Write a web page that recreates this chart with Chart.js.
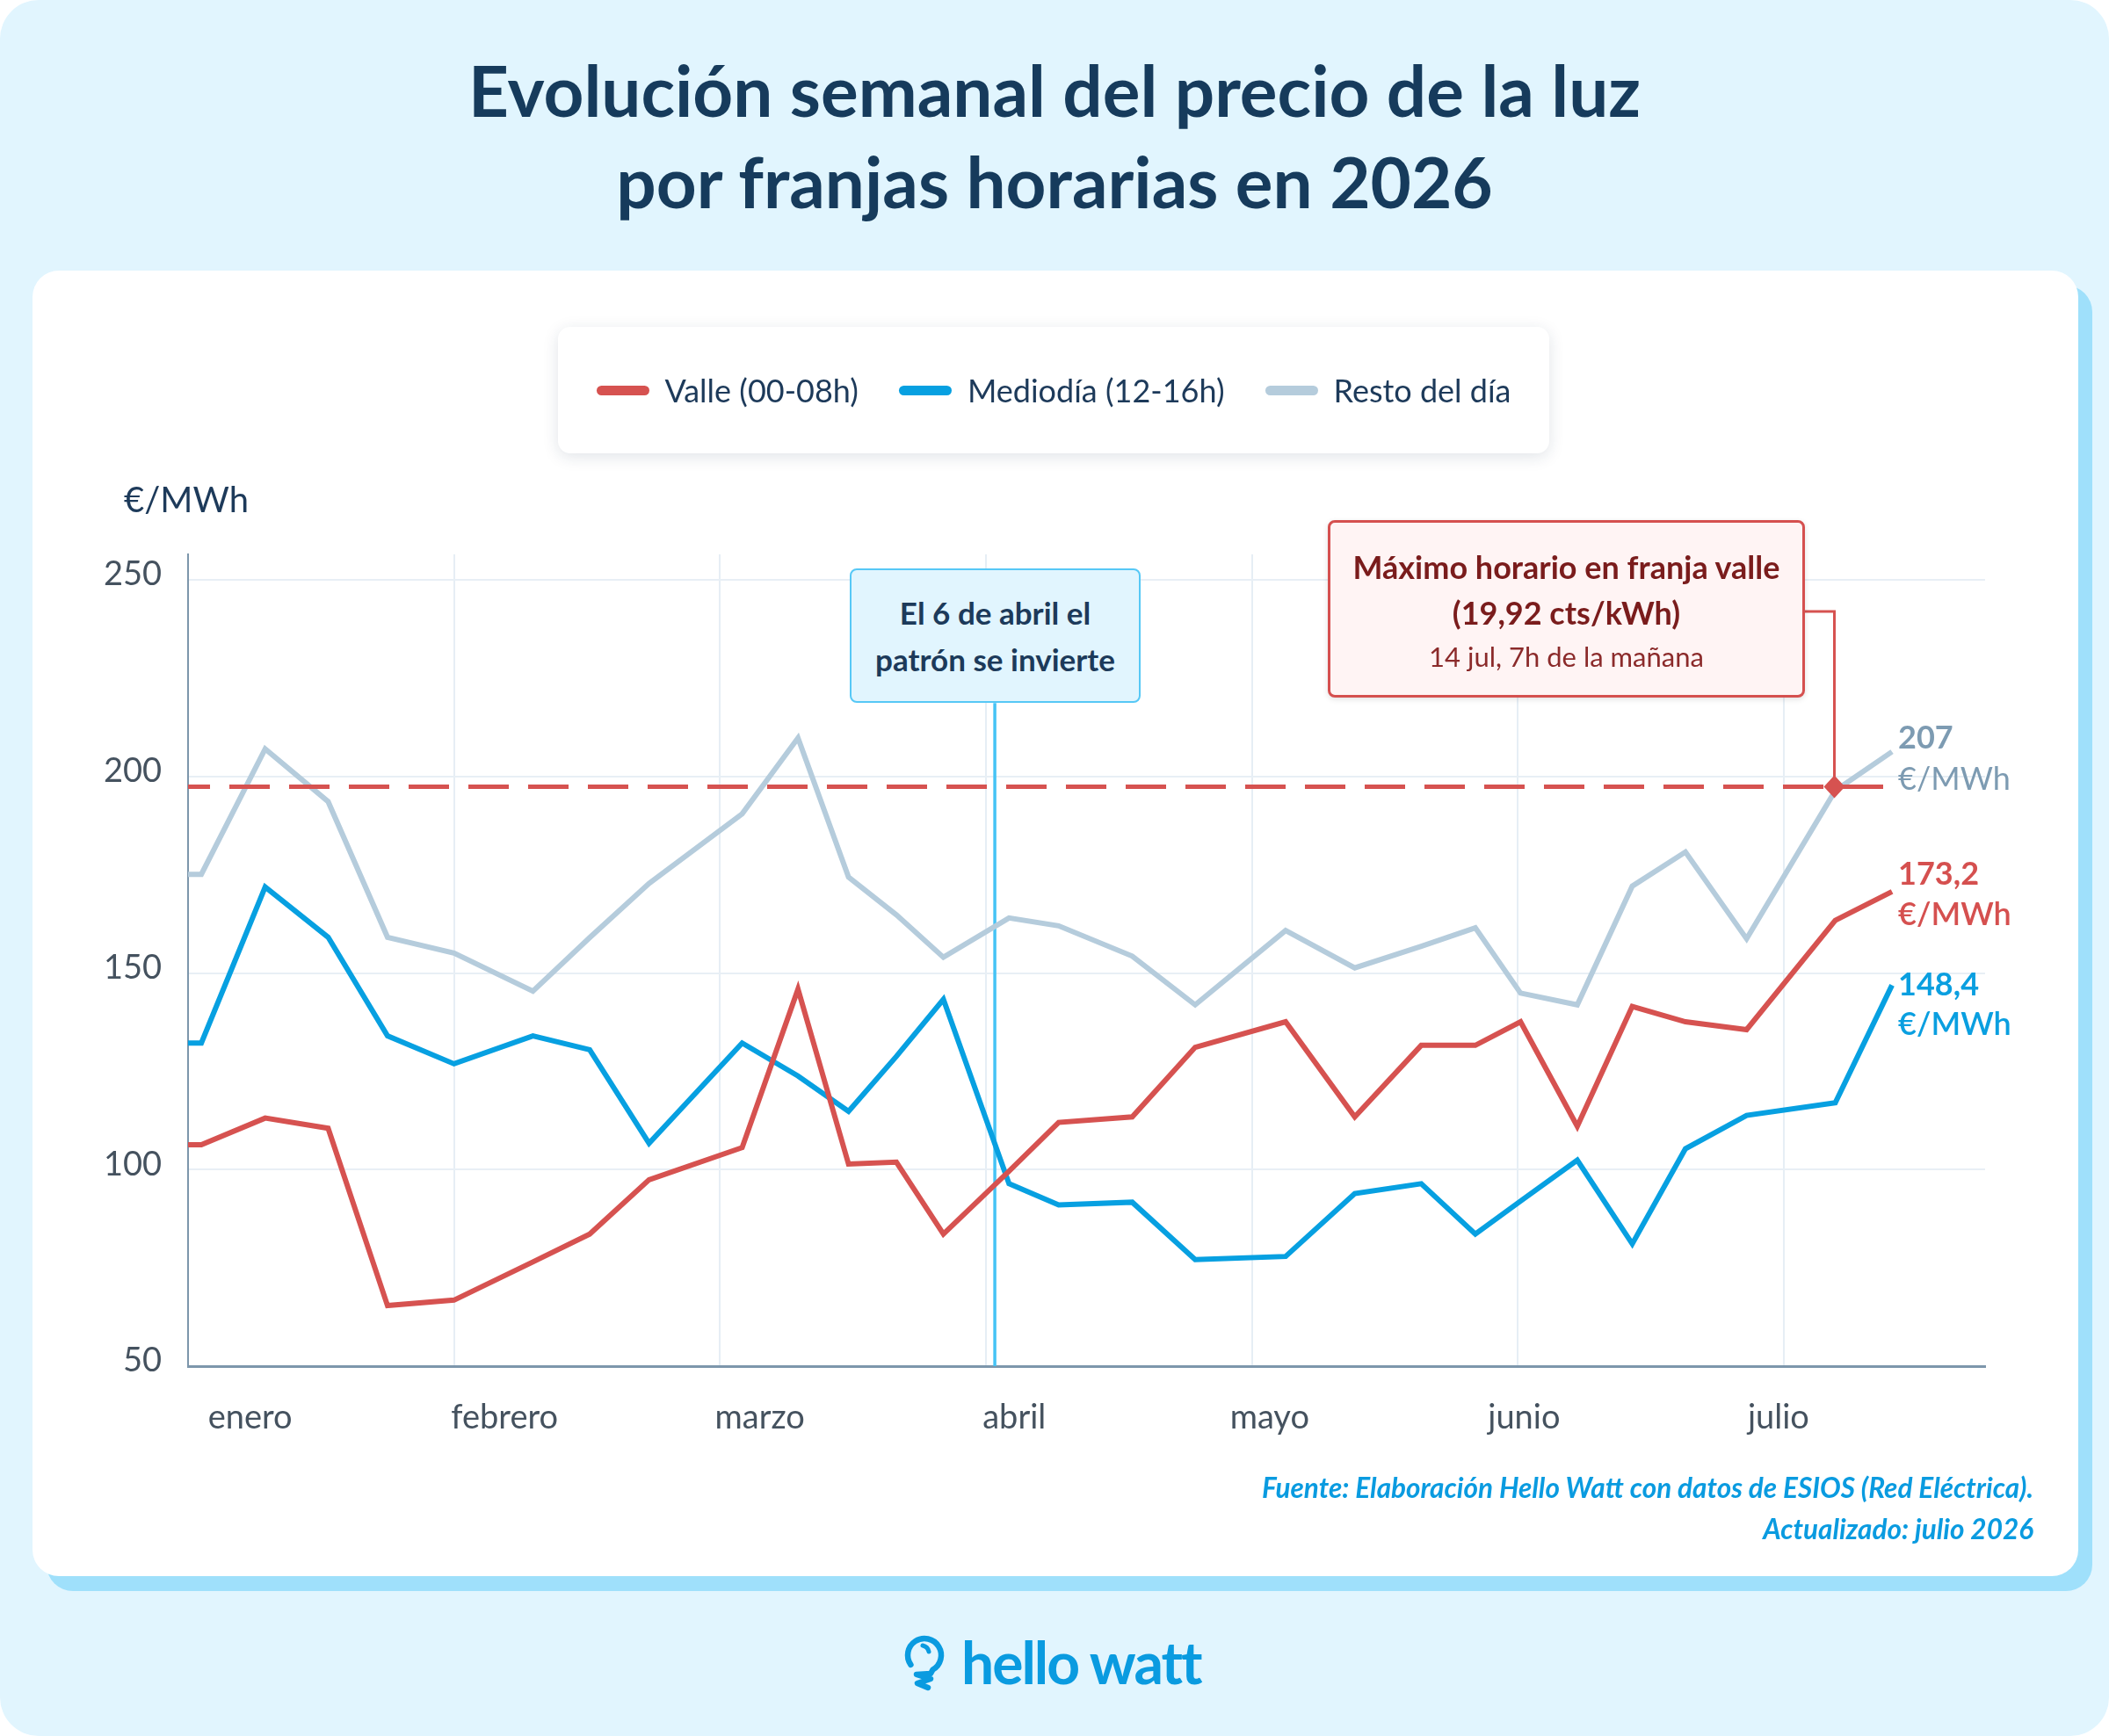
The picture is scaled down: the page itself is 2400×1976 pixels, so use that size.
<!DOCTYPE html>
<html>
<head>
  <meta charset="utf-8">
  <title>Evolución semanal del precio de la luz</title>
  <script src="https://cdn.jsdelivr.net/npm/chart.js"></script>
  <style>
    html, body { margin: 0; padding: 0; background: #ffffff; }
    body {
      width: 2400px; height: 1976px;
      position: relative; overflow: hidden;
      font-family: Lato, "Open Sans", sans-serif;
    }
    .fondo {
      position: absolute; left: 0; top: 0;
      width: 2400px; height: 1976px;
      background: #e1f5fe;
      border-radius: 44px;
    }
    .titulo {
      position: absolute; left: 0; width: 2400px;
      text-align: center;
      font-weight: 700; font-size: 80px; line-height: 96px;
      color: #163b5c;
    }
    .tarjeta {
      position: absolute; left: 37px; top: 308px;
      width: 2328px; height: 1486px;
      background: #ffffff;
      border-radius: 30px;
      box-shadow: 16px 17px 0 #9fe0fb;
    }
    .leyenda {
      position: absolute; left: 635px; top: 372px;
      width: 1128px; height: 144px;
      background: #ffffff;
      border-radius: 14px;
      box-shadow: 0 4px 18px rgba(20, 50, 80, 0.13);
      display: flex; align-items: center; justify-content: center;
      gap: 46px;
      z-index: 3;
    }
    .item { display: flex; align-items: center; gap: 18px; font-size: 36px; color: #1d3a5a; }
    .muestra { width: 60px; height: 11px; border-radius: 6px; }
    .unidad {
      position: absolute; left: 141px; top: 544px;
      font-size: 40px; line-height: 48px; color: #1d3a5a;
      z-index: 3;
    }
    #grafico { position: absolute; left: 0; top: 0; width: 2400px; height: 1976px; z-index: 2; }
    .caja-abril {
      position: absolute; left: 967px; top: 647px;
      width: 331px; height: 153px; box-sizing: border-box;
      background: #e1f5fe; border: 2px solid #56c8f6; border-radius: 8px;
      display: flex; flex-direction: column; justify-content: center; align-items: center;
      font-weight: 700; font-size: 35px; line-height: 53px; color: #1c3a5a;
      z-index: 4;
    }
    .caja-max {
      position: absolute; left: 1511px; top: 592px;
      width: 543px; height: 202px; box-sizing: border-box;
      background: #fff4f4; border: 3px solid #d5504f; border-radius: 8px;
      box-shadow: 0 2px 6px rgba(0, 0, 0, 0.12);
      text-align: center; padding-top: 24px;
      color: #7a1c1c;
      z-index: 4;
    }
    .caja-max .l1 { font-weight: 700; font-size: 36px; line-height: 52px; }
    .caja-max .l3 { font-size: 31px; line-height: 48px; color: #8b2a2a; }
    .fuente {
      position: absolute; right: 86px; top: 1670px;
      text-align: right;
      font-style: italic; font-weight: 700; font-size: 31.5px; line-height: 47px;
      color: #0a9be0;
      z-index: 3;
    }
    .logo-icono { position: absolute; left: 1028px; top: 1858px; }
    .logo-texto {
      position: absolute; left: 1094px; top: 1852px;
      font-weight: 700; font-size: 66px; line-height: 79px;
      color: #0a9be0; letter-spacing: -2px;
    }
  </style>
</head>
<body>
  <div class="fondo"></div>
  <div class="titulo" style="top:54px">Evolución semanal del precio de la luz</div>
  <div class="titulo" style="top:158px">por franjas horarias en 2026</div>

  <div class="tarjeta"></div>
  <div class="leyenda" id="leyenda"></div>
  <div class="unidad">€/MWh</div>

  <canvas id="grafico" width="2400" height="1976"></canvas>

  <div class="caja-abril"><div>El 6 de abril el</div><div>patrón se invierte</div></div>
  <div class="caja-max">
    <div class="l1">Máximo horario en franja valle</div>
    <div class="l1">(19,92 cts/kWh)</div>
    <div class="l3">14 jul, 7h de la mañana</div>
  </div>

  <div class="fuente">
    Fuente: Elaboración Hello Watt con datos de ESIOS (Red Eléctrica).<br>
    Actualizado: julio 2026
  </div>

  <svg class="logo-icono" width="50" height="68" viewBox="0 0 50 68">
    <path d="M8.4 36.9 A19 19 0 1 1 33.5 42.5 L31 47 L15 48 L31 53 L16 58 L28 63"
          fill="none" stroke="#0a9be0" stroke-width="6.5" stroke-linecap="round" stroke-linejoin="round"/>
    <path d="M22 15 A9 9 0 0 1 29 22" fill="none" stroke="#0a9be0" stroke-width="5" stroke-linecap="round"/>
  </svg>
  <div class="logo-texto">hello watt</div>

  <script>
    // semanas, en días desde el 1 de enero
    const dias = [0, 1.5, 8.7, 15.8, 22.5, 30, 38.9, 45.3, 52, 62.5, 68.8, 74.5, 79.9, 85.2, 92.6,
                  98.2, 106.5, 113.6, 123.8, 131.6, 139.1, 145.2, 150.3, 156.7, 162.9, 168.9, 175.8, 185.8, 192.2];

    const valle = [106.3, 106.3, 113.1, 110.5, 65.4, 66.8, 76.5, 83.6, 97.4, 105.6, 145.9, 101.4, 101.9, 83.6, 99.6,
                   112, 113.4, 131.1, 137.6, 113.4, 131.6, 131.6, 137.6, 111, 141.5, 137.6, 135.6, 163.4, 170.7];
    const mediodia = [132.2, 132.2, 171.9, 159.1, 134, 126.9, 134, 130.5, 106.7, 132.2, 123.8, 114.8, 128.8, 143.3, 96.4,
                      91, 91.7, 77.1, 77.9, 93.9, 96.4, 83.6, 92, 102.4, 81.1, 105.3, 113.8, 117, 146.9];
    const resto = [175.1, 175.1, 207, 193.6, 159.1, 155.1, 145.4, 159, 172.8, 190.5, 209.8, 174.4, 164.8, 154, 164,
                   162, 154.3, 141.9, 160.8, 151.3, 156.8, 161.5, 144.9, 141.9, 172.1, 180.8, 158.7, 196.4, 206.3];

    const nombres = ["Valle (00-08h)", "Mediodía (12-16h)", "Resto del día"];
    const colores = ["#d65250", "#07a0e1", "#b5ccdc"];
    const etiquetasFinales = [["173,2", "€/MWh"], ["148,4", "€/MWh"], ["207", "€/MWh"]];

    const meses = ["enero", "febrero", "marzo", "abril", "mayo", "junio", "julio"];
    const posMeses = [7, 35.7, 64.5, 93.2, 122, 150.7, 179.4];
    const ticksX = [0, 30, 60, 90, 120, 150, 180];
    const ticksY = [50, 100, 150, 200, 250];

    const diaCambio = 91;        // 6 de abril
    const topeCambio = 218.7;    // la línea nace bajo la caja
    const nivelMaxValle = 197.4; // línea discontinua
    const diaMaxValle = 185.7;   // 14 jul
    const nivelConector = 242;
    const inicioConector = 182;

    // leyenda
    const leyenda = document.getElementById("leyenda");
    nombres.forEach((n, i) => {
      const item = document.createElement("div");
      item.className = "item";
      item.innerHTML = `<div class="muestra" style="background:${colores[i]}"></div><div>${n}</div>`;
      leyenda.appendChild(item);
    });

    const series = [valle, mediodia, resto];

    const anotaciones = {
      id: "anotaciones",
      beforeDatasetsDraw(chart) {
        const { ctx, chartArea: a, scales: { x, y } } = chart;
        const px = x.getPixelForValue(diaCambio);
        ctx.save();
        ctx.strokeStyle = "#45c3f5";
        ctx.lineWidth = 3.5;
        ctx.beginPath();
        ctx.moveTo(px, y.getPixelForValue(topeCambio));
        ctx.lineTo(px, a.bottom);
        ctx.stroke();
        ctx.restore();
      },
      afterDatasetsDraw(chart) {
        const { ctx, chartArea: a, scales: { x, y } } = chart;
        const py = y.getPixelForValue(nivelMaxValle);
        ctx.save();
        // máximo valle
        ctx.strokeStyle = colores[0];
        ctx.lineWidth = 5;
        ctx.setLineDash([46, 22]);
        ctx.lineDashOffset = 21;
        ctx.beginPath();
        ctx.moveTo(a.left, py);
        ctx.lineTo(x.getPixelForValue(dias[dias.length - 1]), py);
        ctx.stroke();

        // conector hasta la caja
        const cx = x.getPixelForValue(diaMaxValle);
        const cy = y.getPixelForValue(nivelConector);
        ctx.setLineDash([]);
        ctx.lineWidth = 3;
        ctx.beginPath();
        ctx.moveTo(x.getPixelForValue(inicioConector), cy);
        ctx.lineTo(cx, cy);
        ctx.lineTo(cx, py);
        ctx.stroke();

        ctx.fillStyle = colores[0];
        ctx.beginPath();
        ctx.moveTo(cx, py - 13);
        ctx.lineTo(cx + 12, py);
        ctx.lineTo(cx, py + 13);
        ctx.lineTo(cx - 12, py);
        ctx.closePath();
        ctx.fill();

        // etiquetas al final de cada serie
        const desplaz = [[-20, 26], [0, 45], [-15, 32]];
        const tonos = ["#d5504f", "#0a9fe0", "#7d9bb2"];
        ctx.textAlign = "left";
        ctx.textBaseline = "middle";
        series.forEach((s, i) => {
          const lx = x.getPixelForValue(dias[dias.length - 1]) + 7;
          const ly = y.getPixelForValue(s[s.length - 1]);
          ctx.fillStyle = tonos[i];
          ctx.font = "700 36px Lato";
          ctx.fillText(etiquetasFinales[i][0], lx, ly + desplaz[i][0]);
          ctx.font = (i === 2 ? "400" : "600") + " 36px Lato";
          ctx.fillText(etiquetasFinales[i][1], lx, ly + desplaz[i][1]);
        });
        ctx.restore();
      }
    };

    new Chart(document.getElementById("grafico"), {
      type: "line",
      data: {
        datasets: series.map((s, i) => ({
          label: nombres[i],
          data: s.map((v, k) => ({ x: dias[k], y: v })),
          borderColor: colores[i],
          borderWidth: 6,
          pointRadius: 0,
          tension: 0,
          fill: false
        }))
      },
      options: {
        responsive: false,
        devicePixelRatio: 1,
        animation: false,
        layout: { padding: { left: 0, top: 631, right: 141, bottom: 0 } },
        plugins: { legend: { display: false }, tooltip: { enabled: false } },
        scales: {
          x: {
            type: "linear", min: 0, max: 202.7, weight: 0,
            afterBuildTicks: ax => { ax.ticks = ticksX.map(v => ({ value: v })); },
            afterFit: ax => { ax.height = 0; },
            ticks: { display: false },
            grid: { color: "#e6eef5", lineWidth: 2, drawTicks: false },
            border: { color: "#7d96ab", width: 3 }
          },
          xm: {
            type: "linear", position: "bottom", min: 0, max: 202.7, weight: 1,
            afterBuildTicks: ax => { ax.ticks = posMeses.map(v => ({ value: v })); },
            afterFit: ax => { ax.height = 421; },
            ticks: {
              autoSkip: false, maxRotation: 0, padding: 36,
              color: "#45525f", font: { family: "Lato", size: 38 },
              callback: (v, i) => meses[i]
            },
            grid: { display: false, drawTicks: false },
            border: { display: false }
          },
          y: {
            min: 50, max: 256.5,
            afterBuildTicks: ax => { ax.ticks = ticksY.map(v => ({ value: v })); },
            afterFit: ax => { ax.width = 214; },
            ticks: { padding: 30, labelOffset: -6, color: "#45525f", font: { family: "Lato", size: 38 } },
            grid: { color: "#e8eff5", lineWidth: 2, drawTicks: false },
            border: { color: "#7d96ab", width: 2 }
          }
        }
      },
      plugins: [anotaciones]
    });
  </script>
</body>
</html>
